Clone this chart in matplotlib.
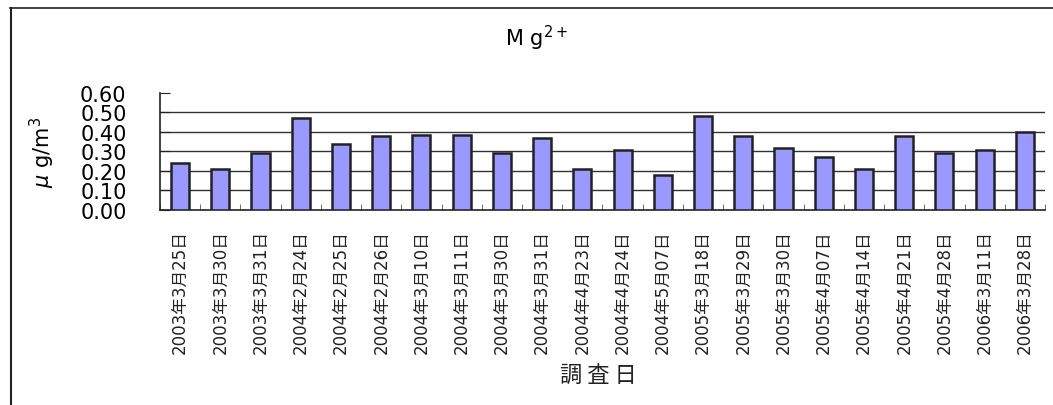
import numpy as np
import matplotlib
matplotlib.use('Agg')
import matplotlib.pyplot as plt
from matplotlib.lines import Line2D

plt.rcParams['font.family'] = ['DejaVu Sans', 'Noto Sans CJK JP']

dates = ['2003年3月25日', '2003年3月30日', '2003年3月31日', '2004年2月24日',
         '2004年2月25日', '2004年2月26日', '2004年3月10日', '2004年3月11日',
         '2004年3月30日', '2004年3月31日', '2004年4月23日', '2004年4月24日',
         '2004年5月07日', '2005年3月18日', '2005年3月29日', '2005年3月30日',
         '2005年4月07日', '2005年4月14日', '2005年4月21日', '2005年4月28日',
         '2006年3月11日', '2006年3月28日']
mg = [0.24, 0.21, 0.29, 0.47, 0.34, 0.38, 0.385, 0.385, 0.29, 0.37, 0.21,
      0.31, 0.18, 0.48, 0.38, 0.32, 0.27, 0.21, 0.38, 0.29, 0.31, 0.40]
yticks = [0.0, 0.1, 0.2, 0.3, 0.4, 0.5, 0.6]

fig = plt.figure(figsize=(10.53, 4.06), dpi=100)
ax = fig.add_axes([0.1519, 0.4803, 0.8405, 0.2882])

x = np.arange(len(dates))
ax.bar(x, mg, width=0.45, color='#9999ff', edgecolor='#222222', linewidth=1.8, zorder=3)

ax.set_xlim(-0.5, len(dates) - 0.5)
ax.set_ylim(0, 0.6)
ax.set_yticks(yticks)
ax.set_yticklabels(['%.2f' % v for v in yticks], fontsize=15)
for v in yticks[1:-1]:
    ax.axhline(v, color='#333333', lw=1, zorder=1)

ax.set_xticks(x)
ax.set_xticklabels(dates, rotation=90, fontsize=12, color='#222222')
ax.set_xticks(np.arange(-0.5, len(dates)), minor=True)
ax.tick_params(axis='x', which='major', length=0, pad=14)
ax.tick_params(axis='x', which='minor', direction='in', length=4, color='#555555')
ax.tick_params(axis='y', direction='in', length=7, pad=24, color='#222222')

for s in ['top', 'right']:
    ax.spines[s].set_visible(False)
for s in ['left', 'bottom']:
    ax.spines[s].set_color('#222222')
    ax.spines[s].set_linewidth(1.2)

ax.set_ylabel(r'$\mu$ g/m$^3$', fontsize=15)
ax.yaxis.set_label_coords(-0.116, 0.5)

fig.text(0.509, 0.905, r'M g$^{2+}$', fontsize=15, ha='center', va='center')
fig.text(0.568, 0.076, '調 査 日', fontsize=16, ha='center', va='center',
         color='#222222', family=['Noto Sans CJK JP'])

# outer frame (top and left edges)
fig.add_artist(Line2D([0.0095, 1.0], [0.978, 0.978], color='#222222', lw=1.2))
fig.add_artist(Line2D([0.0100, 0.0100], [0.0, 0.978], color='#222222', lw=1.5))

fig.savefig('out.png', dpi=100)
